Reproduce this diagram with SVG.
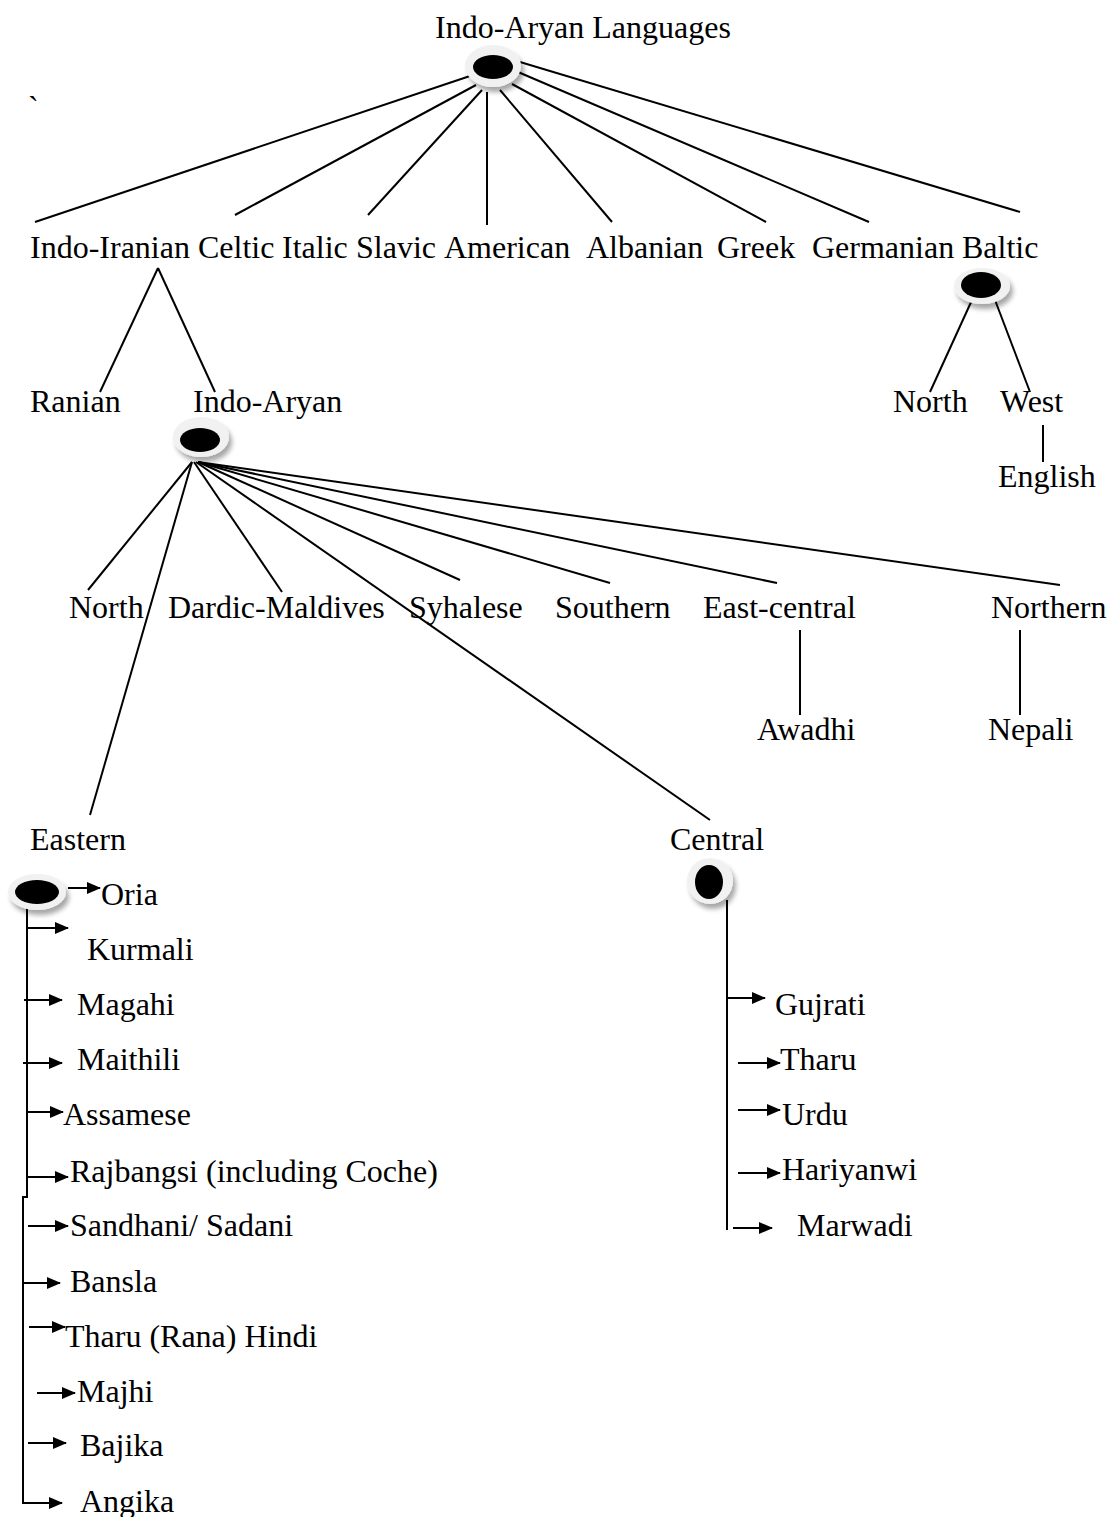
<svg xmlns="http://www.w3.org/2000/svg" width="1110" height="1517" viewBox="0 0 1110 1517">
  <style>
    text { font-family: "Liberation Serif", "Times New Roman", serif; font-size: 32px; fill: #000; }
    .ln { stroke: #000; stroke-width: 2; fill: none; }
    .ar { stroke: #000; stroke-width: 2; fill: none; marker-end: url(#tip); }
    .ring { fill: #f1f1f1; filter: url(#shadow); }
    .core { fill: #000; }
  </style>
  <defs>
    <marker id="tip" viewBox="0 0 14 12" refX="13" refY="6" markerWidth="14" markerHeight="12" markerUnits="userSpaceOnUse" orient="auto">
      <path d="M0,0 L14,6 L0,12 Z" fill="#000"/>
    </marker>
    <filter id="shadow" x="-40%" y="-40%" width="180%" height="190%">
      <feGaussianBlur in="SourceAlpha" stdDeviation="2.5"/>
      <feOffset dx="3" dy="5" result="b"/>
      <feComponentTransfer><feFuncA type="linear" slope="0.35"/></feComponentTransfer>
      <feMerge><feMergeNode/><feMergeNode in="SourceGraphic"/></feMerge>
    </filter>
  </defs>

  <rect width="1110" height="1517" fill="#fff"/>

  <!-- connectors -->
  <g id="connectors">
    <!-- root fan -->
    <line class="ln" x1="470" y1="76" x2="35" y2="222"/>
    <line class="ln" x1="476" y1="85" x2="235" y2="215"/>
    <line class="ln" x1="482" y1="90" x2="368" y2="215"/>
    <line class="ln" x1="487" y1="92" x2="487" y2="225"/>
    <line class="ln" x1="500" y1="90" x2="612" y2="222"/>
    <line class="ln" x1="512" y1="84" x2="766" y2="222"/>
    <line class="ln" x1="518" y1="72" x2="869" y2="222"/>
    <line class="ln" x1="520" y1="62" x2="1020" y2="212"/>
    <!-- Indo-Iranian split -->
    <line class="ln" x1="158" y1="268" x2="100" y2="392"/>
    <line class="ln" x1="158" y1="268" x2="215" y2="392"/>
    <!-- Baltic split -->
    <line class="ln" x1="972" y1="300" x2="930" y2="392"/>
    <line class="ln" x1="995" y1="300" x2="1030" y2="392"/>
    <line class="ln" x1="1043" y1="425" x2="1043" y2="462"/>
    <!-- Indo-Aryan fan -->
    <line class="ln" x1="192" y1="462" x2="88" y2="590"/>
    <line class="ln" x1="192" y1="462" x2="90" y2="815"/>
    <line class="ln" x1="194" y1="462" x2="282" y2="592"/>
    <line class="ln" x1="196" y1="462" x2="710" y2="820"/>
    <line class="ln" x1="198" y1="462" x2="460" y2="580"/>
    <line class="ln" x1="198" y1="462" x2="610" y2="583"/>
    <line class="ln" x1="198" y1="462" x2="777" y2="583"/>
    <line class="ln" x1="198" y1="462" x2="1060" y2="585"/>
    <line class="ln" x1="800" y1="630" x2="800" y2="715"/>
    <line class="ln" x1="1020" y1="630" x2="1020" y2="715"/>
    <!-- Eastern list -->
    <polyline class="ln" points="27,905 27,1197 23,1197 23,1503 24,1503"/>
    <line class="ar" x1="68" y1="888" x2="100" y2="888"/>
    <line class="ar" x1="28" y1="928" x2="68" y2="928"/>
    <line class="ar" x1="24" y1="1000" x2="62" y2="1000"/>
    <line class="ar" x1="23" y1="1063" x2="62" y2="1063"/>
    <line class="ar" x1="27" y1="1112" x2="63" y2="1112"/>
    <line class="ar" x1="28" y1="1177" x2="68" y2="1177"/>
    <line class="ar" x1="28" y1="1226" x2="68" y2="1226"/>
    <line class="ar" x1="22" y1="1283" x2="60" y2="1283"/>
    <line class="ar" x1="29" y1="1327" x2="65" y2="1327"/>
    <line class="ar" x1="37" y1="1393" x2="75" y2="1393"/>
    <line class="ar" x1="28" y1="1443" x2="66" y2="1443"/>
    <line class="ar" x1="23" y1="1503" x2="62" y2="1503"/>
    <!-- Central list -->
    <line class="ln" x1="727" y1="900" x2="727" y2="1230"/>
    <line class="ar" x1="727" y1="998" x2="765" y2="998"/>
    <line class="ar" x1="738" y1="1063" x2="780" y2="1063"/>
    <line class="ar" x1="738" y1="1110" x2="780" y2="1110"/>
    <line class="ar" x1="738" y1="1173" x2="780" y2="1173"/>
    <line class="ar" x1="733" y1="1228" x2="772" y2="1228"/>
  </g>

  <!-- branching points -->
  <g id="node-root-dot">
    <ellipse class="ring" cx="493" cy="66" rx="28" ry="21"/>
    <ellipse class="core" cx="493" cy="67" rx="20" ry="12"/>
  </g>
  <g id="node-baltic-dot">
    <ellipse class="ring" cx="982" cy="286" rx="28" ry="18"/>
    <ellipse class="core" cx="981" cy="285" rx="20" ry="13"/>
  </g>
  <g id="node-indoaryan-dot">
    <ellipse class="ring" cx="201" cy="437" rx="28" ry="20"/>
    <ellipse class="core" cx="200" cy="440" rx="20" ry="12"/>
  </g>
  <g id="node-eastern-dot">
    <ellipse class="ring" cx="37" cy="892" rx="29" ry="18"/>
    <ellipse class="core" cx="37" cy="892" rx="22" ry="12"/>
  </g>
  <g id="node-central-dot">
    <ellipse class="ring" cx="710" cy="881" rx="23" ry="23"/>
    <ellipse class="core" cx="709" cy="882" rx="14" ry="17"/>
  </g>

  <!-- labels -->
  <g id="node-root"><text x="435" y="38">Indo-Aryan Languages</text></g>
  <g id="mark"><text x="28" y="118">`</text></g>

  <g id="node-indo-iranian"><text x="30" y="258">Indo-Iranian</text></g>
  <g id="node-celtic"><text x="198" y="258">Celtic</text></g>
  <g id="node-italic"><text x="282" y="258">Italic</text></g>
  <g id="node-slavic"><text x="356" y="258">Slavic</text></g>
  <g id="node-american"><text x="444" y="258">American</text></g>
  <g id="node-albanian"><text x="586" y="258">Albanian</text></g>
  <g id="node-greek"><text x="717" y="258">Greek</text></g>
  <g id="node-germanian"><text x="812" y="258">Germanian</text></g>
  <g id="node-baltic"><text x="962" y="258">Baltic</text></g>

  <g id="node-ranian"><text x="30" y="412">Ranian</text></g>
  <g id="node-indo-aryan"><text x="193" y="412">Indo-Aryan</text></g>
  <g id="node-baltic-north"><text x="893" y="412">North</text></g>
  <g id="node-west"><text x="1000" y="412">West</text></g>
  <g id="node-english"><text x="998" y="487">English</text></g>

  <g id="node-north"><text x="69" y="618">North</text></g>
  <g id="node-dardic"><text x="168" y="618">Dardic-Maldives</text></g>
  <g id="node-syhalese"><text x="409" y="618">Syhalese</text></g>
  <g id="node-southern"><text x="555" y="618">Southern</text></g>
  <g id="node-east-central"><text x="703" y="618">East-central</text></g>
  <g id="node-northern"><text x="991" y="618">Northern</text></g>
  <g id="node-awadhi"><text x="757" y="740">Awadhi</text></g>
  <g id="node-nepali"><text x="988" y="740">Nepali</text></g>

  <g id="node-eastern"><text x="30" y="850">Eastern</text></g>
  <g id="node-central"><text x="670" y="850">Central</text></g>

  <g id="eastern-list">
    <text x="101" y="905">Oria</text>
    <text x="87" y="960">Kurmali</text>
    <text x="77" y="1015">Magahi</text>
    <text x="77" y="1070">Maithili</text>
    <text x="63" y="1125">Assamese</text>
    <text x="70" y="1182">Rajbangsi (including Coche)</text>
    <text x="70" y="1236">Sandhani/ Sadani</text>
    <text x="70" y="1292">Bansla</text>
    <text x="65" y="1347">Tharu (Rana) Hindi</text>
    <text x="77" y="1402">Majhi</text>
    <text x="80" y="1456">Bajika</text>
    <text x="80" y="1512">Angika</text>
  </g>

  <g id="central-list">
    <text x="775" y="1015">Gujrati</text>
    <text x="780" y="1070">Tharu</text>
    <text x="782" y="1125">Urdu</text>
    <text x="782" y="1180">Hariyanwi</text>
    <text x="797" y="1236">Marwadi</text>
  </g>
</svg>
